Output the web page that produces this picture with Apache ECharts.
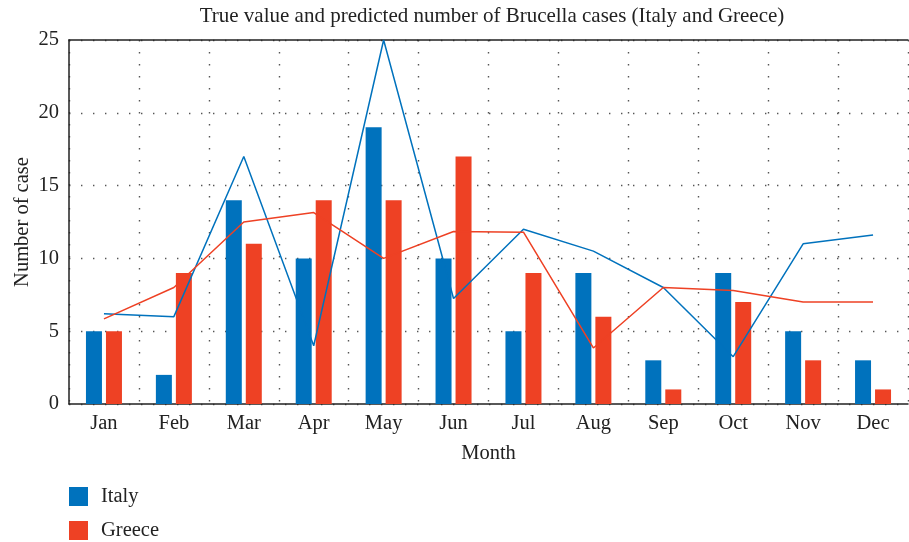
<!DOCTYPE html>
<html>
<head>
<meta charset="utf-8">
<script src="https://cdn.jsdelivr.net/npm/echarts@6/dist/echarts.min.js"></script>
<style>
  html, body { margin: 0; padding: 0; background: #fff; }
  #chart { width: 909px; height: 542px; }
</style>
</head>
<body>
<div id="chart"></div>
<script>
// month labels on the x axis
const months = ['Jan', 'Feb', 'Mar', 'Apr', 'May', 'Jun', 'Jul', 'Aug', 'Sep', 'Oct', 'Nov', 'Dec'];

// true values (bars)
const italyTrue = [5, 2, 14, 10, 19, 10, 5, 9, 3, 9, 5, 3];
const greeceTrue = [5, 9, 11, 14, 14, 17, 9, 6, 1, 7, 3, 1];

// predicted values (lines)
const italyPred = [6.2, 6.0, 17.0, 4.0, 25.0, 7.25, 12.0, 10.5, 8.0, 3.25, 11.0, 11.6];
const greecePred = [5.85, 8.0, 12.5, 13.15, 10.0, 11.85, 11.8, 3.85, 8.0, 7.8, 7.0, 7.0];

const blue = '#0072BD';
const red = '#EE4124';
const serif = 'Liberation Serif';
const fs = 20.5;

const chart = echarts.init(document.getElementById('chart'));

const dotted = { color: '#555', width: 1.4, type: [1.4, 10.6] };

const option = {
  animation: false,
  textStyle: { fontFamily: serif },
  title: {
    text: 'True value and predicted number of Brucella cases (Italy and Greece)',
    left: 492,
    textAlign: 'center',
    top: 6,
    padding: 0,
    textStyle: { fontFamily: serif, fontWeight: 'normal', fontSize: 21, color: '#222' }
  },
  legend: {
    orient: 'vertical',
    left: 69,
    top: 486,
    padding: 0,
    itemWidth: 19,
    itemHeight: 19,
    itemGap: 13,
    icon: 'rect',
    data: ['Italy', 'Greece'],
    textStyle: { fontFamily: serif, fontSize: fs, color: '#222', padding: [0, 0, 0, 8] }
  },
  grid: { left: 69, right: 1, top: 40, bottom: 138, outerBoundsMode: 'none' },
  xAxis: [
    {
      type: 'category',
      data: months,
      name: 'Month',
      nameLocation: 'middle',
      nameGap: 39,
      nameMoveOverlap: false,
      nameTextStyle: { fontFamily: serif, fontSize: fs, color: '#222' },
      axisLine: { lineStyle: { color: '#222', width: 1.5 } },
      axisTick: { show: false },
      axisLabel: { fontFamily: serif, fontSize: fs, color: '#222', margin: 9 },
      splitLine: { show: true, interval: 0, lineStyle: dotted }
    },
    {
      type: 'category',
      data: months,
      position: 'top',
      axisLine: { lineStyle: { color: '#222', width: 1.5 } },
      axisTick: { show: false },
      axisLabel: { show: false }
    }
  ],
  yAxis: {
    type: 'value',
    min: 0,
    max: 25,
    interval: 5,
    name: 'Number of case',
    nameLocation: 'middle',
    nameGap: 36,
    nameMoveOverlap: false,
    nameTextStyle: { fontFamily: serif, fontSize: fs, color: '#222' },
    axisLine: { show: true, lineStyle: { color: '#222', width: 1.5 } },
    axisTick: { show: false },
    axisLabel: { fontFamily: serif, fontSize: fs, color: '#222', margin: 10 },
    splitLine: { show: true, lineStyle: dotted }
  },
  series: [
    {
      name: 'Italy',
      type: 'bar',
      data: italyTrue,
      barWidth: 16,
      barGap: '25%',
      itemStyle: { color: blue }
    },
    {
      name: 'Greece',
      type: 'bar',
      data: greeceTrue,
      barWidth: 16,
      barGap: '25%',
      itemStyle: { color: red }
    },
    {
      name: 'Italy',
      type: 'line',
      data: italyPred,
      symbol: 'none',
      lineStyle: { color: blue, width: 1.5 },
      z: 3
    },
    {
      name: 'Greece',
      type: 'line',
      data: greecePred,
      symbol: 'none',
      lineStyle: { color: red, width: 1.5 },
      z: 3
    }
  ]
};

chart.setOption(option);
</script>
</body>
</html>
